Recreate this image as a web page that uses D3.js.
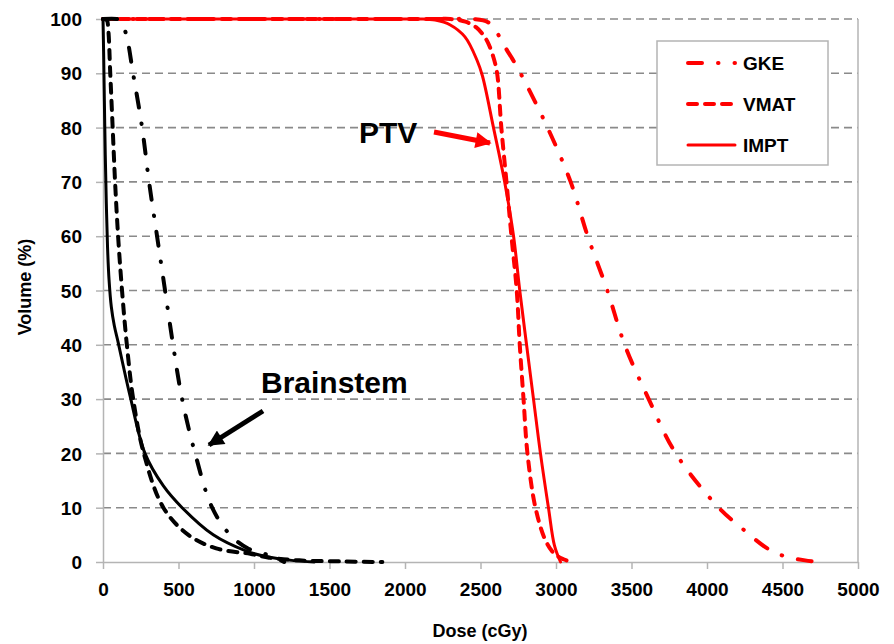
<!DOCTYPE html>
<html>
<head>
<meta charset="utf-8">
<script src="https://cdn.jsdelivr.net/npm/d3@7"></script>
<style>
  body { margin: 0; background: #fff; }
  svg text { font-family: Arial, "Liberation Sans", sans-serif; font-weight: bold; fill: #000; }
</style>
</head>
<body>
<div id="chart"></div>
<script>
// dose (cGy) / volume (%) pairs
const brainGKE  = [[0,100],[90,100],[110,99.8],[150,97.5],[199,90],[259,80],[305,70],[358,60],[411,50],[464,40],[524,30],[610,20],[723,10],[842,5],[960,2.5],[1127,1],[1200,0]];
const brainVMAT = [[0,100],[25,99.8],[35,98],[48,90],[64,80],[80,70],[100,60],[126,50],[158,40],[200,30],[270,20],[400,10],[565,5],[750,2.5],[975,1.5],[1100,0.8],[1300,0.3],[1600,0.1],[1850,0]];
const brainIMPT = [[0,100],[4,94],[9,85],[15,75],[22,66],[30,58],[40,52],[55,47],[75,43.5],[100,40.5],[135,36],[180,30.5],[278,20],[400,14],[524,10],[730,5],[950,2],[1080,1],[1250,0.3],[1400,0]];
const ptvGKE  = [[0,100],[2300,100],[2450,100],[2550,99.4],[2620,97],[2670,94.5],[2710,92.7],[2765,90],[2944,80],[3097,70],[3210,60],[3340,50],[3455,40],[3614,30],[3793,20],[4078,10],[4240,6],[4400,2.5],[4520,1],[4650,0.3],[4735,0]];
const ptvVMAT = [[0,100],[2200,100],[2300,100],[2400,99.5],[2470,98.5],[2520,97],[2550,95.6],[2585,93],[2610,90],[2638,80],[2672,70],[2705,60],[2740,50],[2760,40],[2785,30],[2811,20],[2864,10],[2930,4],[2990,1.5],[3050,0.5],[3100,0]];
const ptvIMPT = [[0,100],[2000,100],[2100,100],[2200,99.8],[2300,98.9],[2397,96.7],[2477,92.4],[2513,89.5],[2586,80],[2660,70],[2719,60],[2760,50],[2805,40],[2851,30],[2897,20],[2950,10],[2990,3],[3030,0]];

const xTicks = [0, 500, 1000, 1500, 2000, 2500, 3000, 3500, 4000, 4500, 5000];
const yTicks = [0, 10, 20, 30, 40, 50, 60, 70, 80, 90, 100];
const legendNames = ['GKE', 'VMAT', 'IMPT'];

const W = 894, H = 644;
const svg = d3.select('#chart').append('svg').attr('width', W).attr('height', H);

const x = d3.scaleLinear().domain([0, 5000]).range([103, 858]);
const y = d3.scaleLinear().domain([0, 100]).range([562, 19]);

const dashStyle = {
  GKE: '14,16,0.5,16',
  VMAT: '9,8',
  IMPT: null
};

// grid lines
svg.append('g')
  .selectAll('line')
  .data(yTicks.filter(d => d > 0))
  .join('line')
  .attr('x1', x(0)).attr('x2', x(5000))
  .attr('y1', d => y(d)).attr('y2', d => y(d))
  .attr('stroke', '#8a8a8a')
  .attr('stroke-width', 1.6)
  .attr('stroke-dasharray', '8,5');

// right border
svg.append('line')
  .attr('x1', x(5000)).attr('x2', x(5000))
  .attr('y1', y(100)).attr('y2', y(0))
  .attr('stroke', '#b4b4b4').attr('stroke-width', 1.5);

// axes
const xAxis = d3.axisBottom(x).tickValues(xTicks).tickFormat(d3.format('d'))
  .tickSize(7).tickSizeOuter(0).tickPadding(14);
const yAxis = d3.axisLeft(y).tickValues(yTicks).tickFormat(d3.format('d'))
  .tickSize(7).tickSizeOuter(0).tickPadding(14);

const xAxisG = svg.append('g').attr('transform', `translate(0,${y(0)})`).call(xAxis);
const yAxisG = svg.append('g').attr('transform', `translate(${x(0)},0)`).call(yAxis);

[xAxisG, yAxisG].forEach(g => {
  g.select('.domain').attr('stroke', '#b4b4b4').attr('stroke-width', 1.5);
  g.selectAll('.tick line').attr('stroke', '#b4b4b4').attr('stroke-width', 1.5);
  g.selectAll('.tick text')
    .style('font-family', 'Arial, "Liberation Sans", sans-serif')
    .style('font-weight', 'bold')
    .style('font-size', '19px')
    .attr('fill', '#000');
});
yAxisG.selectAll('.tick text').attr('dy', '0.35em');

// axis titles
svg.append('text')
  .attr('x', 480).attr('y', 637)
  .attr('text-anchor', 'middle')
  .style('font-size', '18px')
  .text('Dose (cGy)');

svg.append('text')
  .attr('transform', 'translate(31,287) rotate(-90)')
  .attr('text-anchor', 'middle')
  .style('font-size', '18px')
  .text('Volume (%)');

// curves
const line = d3.line()
  .x(d => x(d[0]))
  .y(d => y(d[1]))
  .curve(d3.curveCatmullRom.alpha(0.5));

const curves = [
  { data: ptvGKE, kind: 'GKE', color: '#ff0000' },
  { data: ptvVMAT, kind: 'VMAT', color: '#ff0000' },
  { data: ptvIMPT, kind: 'IMPT', color: '#ff0000' },
  { data: brainGKE, kind: 'GKE', color: '#000000' },
  { data: brainVMAT, kind: 'VMAT', color: '#000000' },
  { data: brainIMPT, kind: 'IMPT', color: '#000000' }
];

svg.append('g')
  .selectAll('path')
  .data(curves)
  .join('path')
  .attr('d', d => line(d.data))
  .attr('fill', 'none')
  .attr('stroke', d => d.color)
  .attr('stroke-width', d => d.kind === 'IMPT' ? 3 : 4)
  .attr('stroke-linecap', 'round')
  .attr('stroke-dasharray', d => dashStyle[d.kind]);

// annotations with arrows
const defs = svg.append('defs');
['black', 'red'].forEach(c => {
  defs.append('marker')
    .attr('id', 'arrow-' + c)
    .attr('viewBox', '0 0 10 10')
    .attr('refX', 9).attr('refY', 5)
    .attr('markerWidth', 3.4).attr('markerHeight', 3.2)
    .attr('orient', 'auto')
    .append('path')
    .attr('d', 'M0,0 L10,5 L0,10 Z')
    .attr('fill', c === 'red' ? '#ff0000' : '#000');
});

svg.append('text')
  .attr('x', 359).attr('y', 143)
  .style('font-size', '30px')
  .text('PTV');

svg.append('line')
  .attr('x1', 434).attr('y1', 132)
  .attr('x2', 490).attr('y2', 143)
  .attr('stroke', '#ff0000').attr('stroke-width', 5)
  .attr('marker-end', 'url(#arrow-red)');

svg.append('text')
  .attr('x', 261).attr('y', 393)
  .style('font-size', '30px')
  .text('Brainstem');

svg.append('line')
  .attr('x1', 263).attr('y1', 411)
  .attr('x2', 209).attr('y2', 445)
  .attr('stroke', '#000').attr('stroke-width', 5)
  .attr('marker-end', 'url(#arrow-black)');

// legend
const legend = svg.append('g');
legend.append('rect')
  .attr('x', 657).attr('y', 41)
  .attr('width', 171).attr('height', 124)
  .attr('fill', '#fff')
  .attr('stroke', '#b4b4b4').attr('stroke-width', 1.5);

const legendY = d3.scalePoint().domain(legendNames).range([63, 145]);

const items = legend.selectAll('g.item')
  .data(legendNames)
  .join('g')
  .attr('class', 'item')
  .attr('transform', d => `translate(0,${legendY(d)})`);

items.append('line')
  .attr('x1', 688).attr('x2', 735)
  .attr('y1', 0).attr('y2', 0)
  .attr('stroke', '#ff0000')
  .attr('stroke-width', d => d === 'IMPT' ? 3 : 4)
  .attr('stroke-linecap', 'round')
  .attr('stroke-dasharray', d => dashStyle[d]);

items.append('text')
  .attr('x', 743).attr('y', 0).attr('dy', '0.35em')
  .style('font-size', '19px')
  .text(d => d);
</script>
</body>
</html>
